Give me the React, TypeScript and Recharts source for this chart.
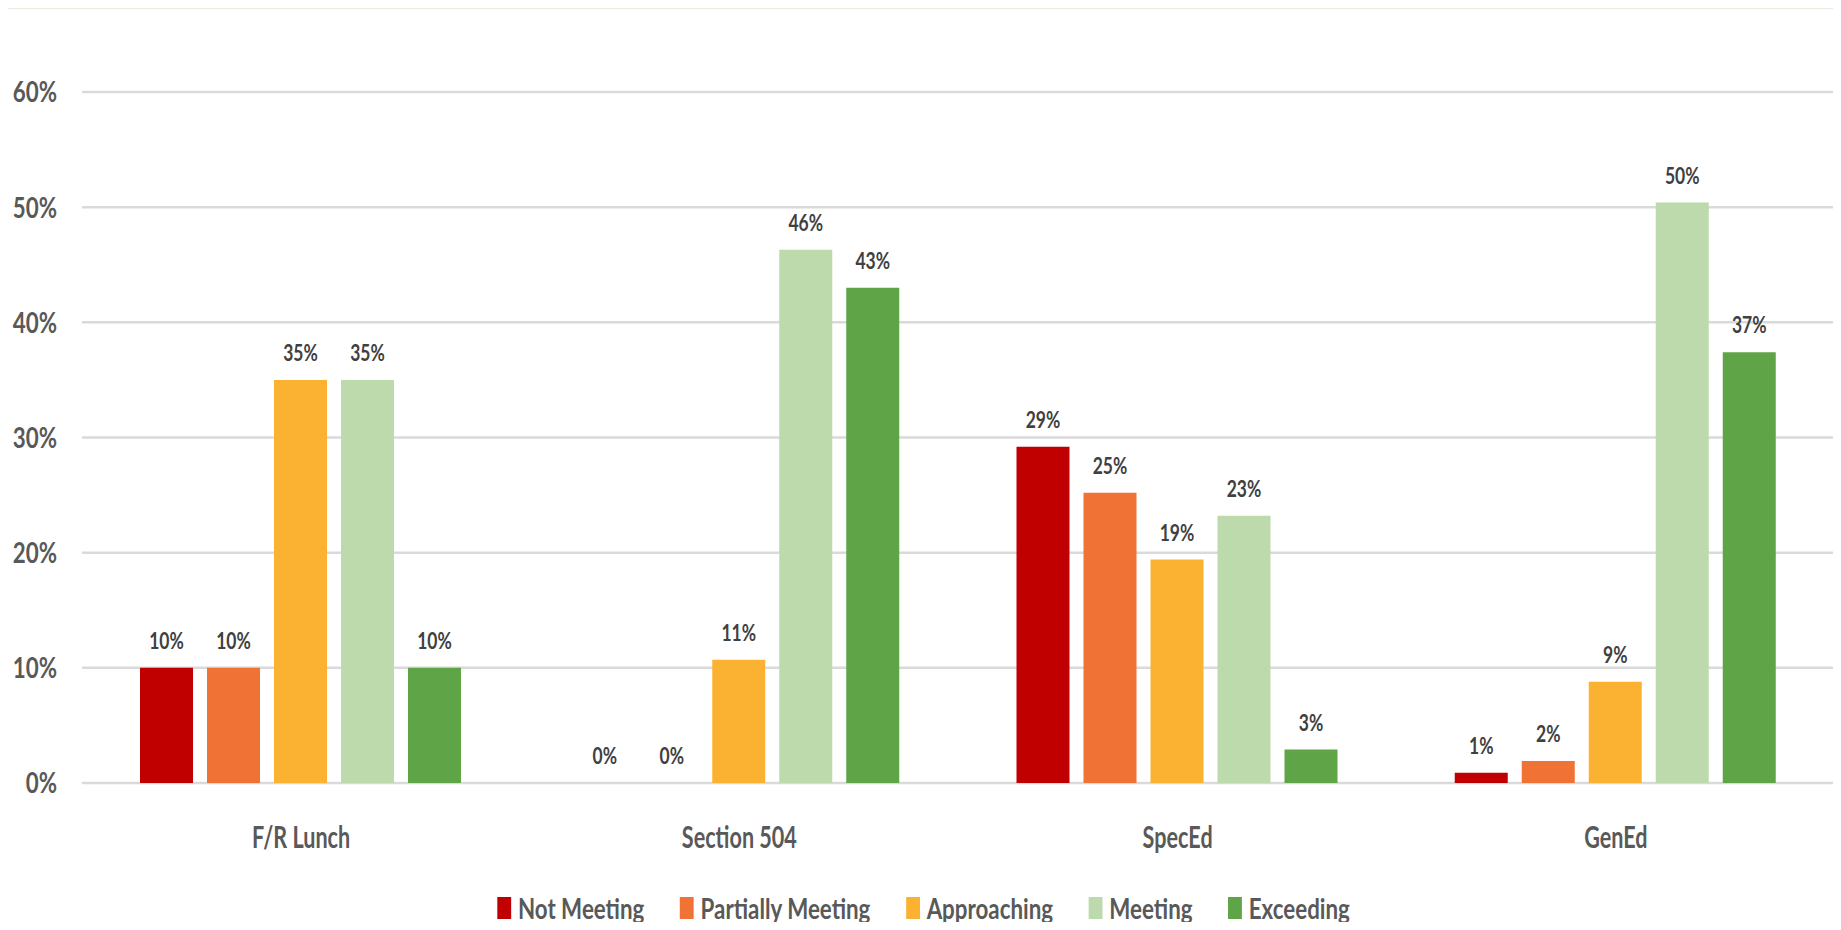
import { Bar, BarChart, CartesianGrid, LabelList, Legend, XAxis, YAxis } from "recharts";

// Share of students at each performance level, by student group (%)
const groups = ["F/R Lunch", "Section 504", "SpecEd", "GenEd"];
const notMeeting = [10, 0, 29.2, 0.9];
const partiallyMeeting = [10, 0, 25.2, 1.9];
const approaching = [35, 10.7, 19.4, 8.8];
const meeting = [35, 46.3, 23.2, 50.4];
const exceeding = [10, 43, 2.9, 37.4];
const yTicks = [0, 10, 20, 30, 40, 50, 60];

const series = [
  { key: "notMeeting", name: "Not Meeting", color: "#C00000", values: notMeeting },
  { key: "partiallyMeeting", name: "Partially Meeting", color: "#F07335", values: partiallyMeeting },
  { key: "approaching", name: "Approaching", color: "#FBB232", values: approaching },
  { key: "meeting", name: "Meeting", color: "#BCDAAC", values: meeting },
  { key: "exceeding", name: "Exceeding", color: "#5FA446", values: exceeding }
];

const rows = groups.map((group, i) => {
  const row: Record<string, string | number> = { group };
  series.forEach((s) => {
    row[s.key] = s.values[i];
  });
  return row;
});

// no condensed face is installed, so text is squeezed horizontally instead
const FONT = "Lato, 'Open Sans', sans-serif";
const WIDTH = 1835;
const HEIGHT = 921;

function formatPercent(value: number) {
  return `${Math.round(value)}%`;
}

type SqueezedProps = {
  x: number;
  y: number;
  text: string;
  anchor: "start" | "middle" | "end";
  size: number;
  squeeze: number;
  color: string;
  dy?: string;
};

function SqueezedText({ x, y, text, anchor, size, squeeze, color, dy }: SqueezedProps) {
  return (
    <text
      transform={`translate(${x},${y}) scale(${squeeze},1)`}
      textAnchor={anchor}
      dy={dy}
      fill={color}
      fontFamily={FONT}
      fontWeight={700}
      fontSize={size}
    >
      {text}
    </text>
  );
}

function YTick(props: any) {
  return (
    <SqueezedText
      x={props.x}
      y={props.y}
      text={formatPercent(props.payload.value)}
      anchor="end"
      size={29}
      squeeze={0.77}
      color="#595959"
      dy="0.36em"
    />
  );
}

function XTick(props: any) {
  return (
    <SqueezedText
      x={props.x}
      y={props.y}
      text={String(props.payload.value)}
      anchor="middle"
      size={30}
      squeeze={0.72}
      color="#595959"
      dy="0.72em"
    />
  );
}

function ValueLabel(props: any) {
  const { x, y, width, value } = props;
  return (
    <SqueezedText
      x={Number(x) + Number(width) / 2}
      y={Number(y) - 19}
      text={formatPercent(Number(value))}
      anchor="middle"
      size={23}
      squeeze={0.76}
      color="#404040"
    />
  );
}

function LegendRow() {
  return (
    <div
      style={{
        display: "flex",
        justifyContent: "center",
        alignItems: "center",
        gap: 46,
        fontFamily: FONT,
        fontWeight: 700,
        fontSize: 29,
        color: "#595959",
        transform: "scaleX(0.77)",
        transformOrigin: "center",
        whiteSpace: "nowrap"
      }}
    >
      {series.map((s) => (
        <div key={s.key} style={{ display: "flex", alignItems: "center", gap: 9 }}>
          <span style={{ display: "inline-block", width: 18, height: 22, background: s.color }} />
          <span>{s.name}</span>
        </div>
      ))}
    </div>
  );
}

export default function App() {
  return (
    <div style={{ background: "#ECEAE0", width: 1841, height: 930, margin: -8, position: "relative", overflow: "hidden" }}>
      <div style={{ position: "absolute", left: 6, top: 9, width: WIDTH, height: HEIGHT, background: "#FFFFFF" }}>
        <BarChart
          width={WIDTH}
          height={HEIGHT}
          data={rows}
          margin={{ top: 83, right: 6, left: 0, bottom: 87 }}
          barCategoryGap={58}
          barGap={14}
        >
          <CartesianGrid stroke="#DADADA" strokeWidth={2.5} vertical={false} />
          <XAxis
            dataKey="group"
            axisLine={false}
            tickLine={false}
            tickSize={0}
            tickMargin={43}
            height={60}
            tick={XTick}
          />
          <YAxis
            domain={[0, 60]}
            ticks={yTicks}
            axisLine={false}
            tickLine={false}
            tickSize={0}
            tickMargin={25}
            width={76}
            tick={YTick}
          />
          <Legend
            layout="horizontal"
            verticalAlign="middle"
            align="center"
            wrapperStyle={{ top: 881, left: 0, width: WIDTH }}
            content={() => <LegendRow />}
          />
          {series.map((s) => (
            // minPointSize keeps zero-value bars (and their labels) in the layout
            <Bar
              key={s.key}
              dataKey={s.key}
              name={s.name}
              fill={s.color}
              minPointSize={0.01}
              isAnimationActive={false}
            >
              <LabelList dataKey={s.key} position="top" content={ValueLabel} />
            </Bar>
          ))}
        </BarChart>
      </div>
    </div>
  );
}
